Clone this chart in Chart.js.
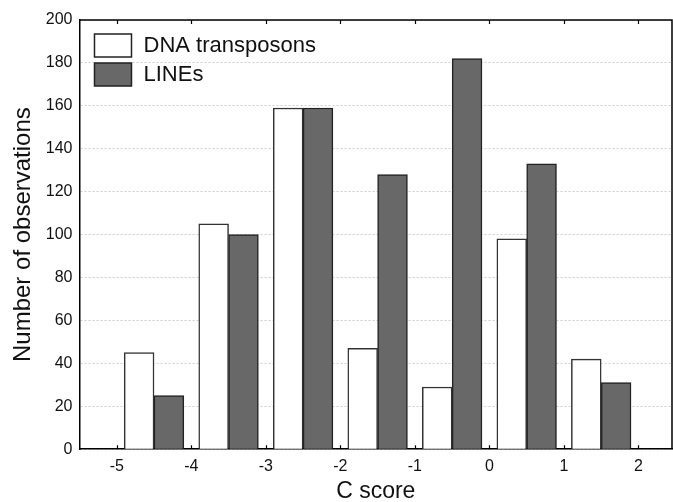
<!DOCTYPE html>
<html>
<head>
<meta charset="utf-8">
<script src="https://cdn.jsdelivr.net/npm/chart.js@4"></script>
<style>
  html, body { margin: 0; padding: 0; background: #fff; }
  #wrap { width: 673px; height: 502px; }
</style>
</head>
<body>
<div id="wrap"><canvas id="histChart" width="673" height="502"></canvas></div>
<script>
// bin centres on the C score axis
const binCenters = [-4.5, -3.5, -2.5, -1.5, -0.5, 0.5, 1.5];
// counts
const dnaTransposons = [45, 105, 159, 47, 29, 98, 42];
const lines = [25, 100, 159, 128, 182, 133, 31];
const yTicks = [0, 20, 40, 60, 80, 100, 120, 140, 160, 180, 200];
const xTicks = [-5, -4, -3, -2, -1, 0, 1, 2];

const halfGap = 0.2; // each bar sits half a bar width either side of the bin centre

const toPoints = (vals, shift) => vals.map((v, i) => ({ x: binCenters[i] + shift, y: v }));

// frame + inward tick marks like the original figure
const framePlugin = {
    id: 'frame',
    afterDraw(chart) {
        const { ctx, chartArea: a, scales } = chart;
        ctx.save();
        ctx.strokeStyle = '#000';
        ctx.lineWidth = 1.5;
        ctx.beginPath();
        ctx.moveTo(a.left, a.top);
        ctx.lineTo(a.right, a.top);
        ctx.lineTo(a.right, a.bottom);
        ctx.stroke();
        ctx.lineWidth = 1.2;
        scales.x.ticks.forEach(t => {
            const px = Math.round(scales.x.getPixelForValue(t.value)) + 0.5;
            ctx.beginPath();
            ctx.moveTo(px, a.bottom);
            ctx.lineTo(px, a.bottom - 4);
            ctx.moveTo(px, a.top);
            ctx.lineTo(px, a.top + 4);
            ctx.stroke();
        });
        ctx.restore();
    }
};

// legend box drawn inside the plot, top left
const legendPlugin = {
    id: 'innerLegend',
    afterDraw(chart) {
        const { ctx, chartArea: a } = chart;
        ctx.save();
        ctx.font = '22px "Liberation Sans", Arial, sans-serif';
        ctx.textBaseline = 'middle';
        chart.data.datasets.forEach((ds, i) => {
            const x = a.left + 15;
            const y = a.top + 14 + i * 29;
            ctx.fillStyle = ds.backgroundColor;
            ctx.fillRect(x, y, 37, 23);
            ctx.strokeStyle = '#222';
            ctx.lineWidth = 1.5;
            ctx.strokeRect(x, y, 37, 23);
            ctx.fillStyle = '#111';
            ctx.fillText(ds.label, x + 49, y + 12);
        });
        ctx.restore();
    }
};

const ctx = document.getElementById('histChart').getContext('2d');
const histChart = new Chart(ctx, {
    type: 'bar',
    data: {
        datasets: [{
            label: 'DNA transposons',
            data: toPoints(dnaTransposons, -halfGap),
            backgroundColor: '#ffffff',
            borderColor: '#333333',
            borderWidth: 1.5
        }, {
            label: 'LINEs',
            data: toPoints(lines, halfGap),
            backgroundColor: '#686868',
            borderColor: '#222222',
            borderWidth: 1.5
        }]
    },
    options: {
        responsive: false,
        animation: false,
        grouped: false,
        barPercentage: 1,
        categoryPercentage: 1,
        layout: { padding: { left: 6, right: 1, top: 20, bottom: 0 } },
        plugins: {
            legend: { display: false },
            tooltip: { enabled: false }
        },
        scales: {
            x: {
                type: 'linear',
                min: -5.5,
                max: 2.45,
                offset: false,
                afterBuildTicks: scale => {
                    scale.ticks = xTicks.map(v => ({ value: v }));
                },
                grid: { display: false, drawTicks: false },
                border: { display: true, color: '#000', width: 1.5 },
                ticks: {
                    color: '#111',
                    padding: 8,
                    font: { family: '"Liberation Sans", Arial, sans-serif', size: 16 }
                },
                title: {
                    display: true,
                    text: 'C score',
                    color: '#111',
                    padding: { top: -7, bottom: -3 },
                    font: { family: '"Liberation Sans", Arial, sans-serif', size: 23 }
                }
            },
            y: {
                min: 0,
                max: 200,
                afterBuildTicks: scale => {
                    scale.ticks = yTicks.map(v => ({ value: v }));
                },
                grid: {
                    color: '#cfcfcf',
                    lineWidth: 1,
                    drawTicks: false
                },
                border: { display: true, color: '#000', width: 1.5, dash: [2, 2] },
                ticks: {
                    color: '#111',
                    padding: 7,
                    font: { family: '"Liberation Sans", Arial, sans-serif', size: 16 }
                },
                title: {
                    display: true,
                    text: 'Number of observations',
                    color: '#111',
                    padding: { top: 3, bottom: 1 },
                    font: { family: '"Liberation Sans", Arial, sans-serif', size: 24 }
                }
            }
        }
    },
    plugins: [framePlugin, legendPlugin]
});
</script>
</body>
</html>
